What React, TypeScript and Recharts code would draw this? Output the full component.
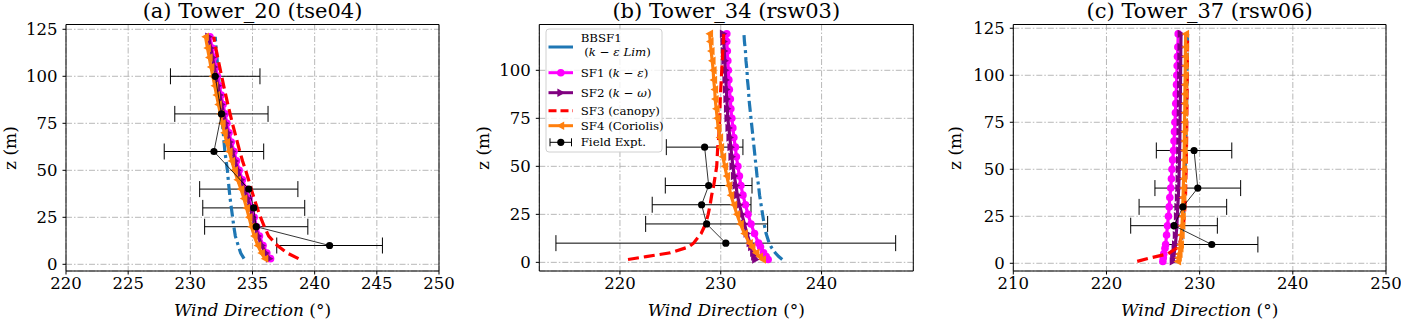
import React from 'react';
import { ScatterChart, Scatter, XAxis, YAxis, CartesianGrid, ErrorBar, ReferenceArea } from 'recharts';

const FONT = 'DejaVu Serif';

// (a) Tower_20 (tse04)
const zA = [3, 6, 10, 15, 20, 25, 30, 35, 40, 45, 50, 55, 60, 65, 70, 75, 80, 85, 90, 95, 100, 105, 110, 115, 121];
const bbsf1A = [234.32, 234.05, 233.85, 233.62, 233.5, 233.4, 233.3, 233.2, 233.12, 233.05, 232.98, 232.88, 232.78, 232.71, 232.65, 232.58, 232.52, 232.46, 232.4, 232.33, 232.26, 232.2, 232.14, 232.07, 232.0];
const sf1A = [236.45, 236.15, 235.85, 235.56, 235.33, 235.13, 234.93, 234.71, 234.46, 234.19, 233.93, 233.71, 233.51, 233.29, 233.11, 232.94, 232.79, 232.63, 232.48, 232.33, 232.18, 232.03, 231.89, 231.75, 231.58];
const sf2A = [236.35, 236.05, 235.75, 235.45, 235.22, 235.02, 234.82, 234.6, 234.35, 234.08, 233.82, 233.6, 233.4, 233.18, 233.0, 232.83, 232.68, 232.52, 232.37, 232.22, 232.07, 231.92, 231.78, 231.64, 231.47];
const sf3A = [238.7, 237.8, 237.0, 236.3, 235.95, 235.65, 235.38, 235.13, 234.9, 234.68, 234.45, 234.2, 233.98, 233.78, 233.58, 233.38, 233.2, 233.02, 232.85, 232.68, 232.52, 232.36, 232.2, 232.05, 231.88];
const sf4A = [236.0, 235.72, 235.43, 235.14, 234.92, 234.72, 234.52, 234.31, 234.07, 233.8, 233.55, 233.33, 233.13, 232.92, 232.74, 232.57, 232.42, 232.26, 232.11, 231.96, 231.81, 231.66, 231.52, 231.38, 231.22];
const fieldZA = [100, 80, 60, 40, 30, 20, 10];
const fieldA = [232.0, 232.5, 231.9, 234.7, 235.1, 235.3, 241.2];
const fieldErrA = [3.6, 3.75, 4.0, 3.95, 4.1, 4.15, 4.25];

// (b) Tower_34 (rsw03)
const zB = [1.5, 3, 5, 8, 10, 15, 20, 25, 30, 35, 40, 45, 50, 55, 60, 65, 70, 75, 80, 85, 90, 95, 100, 105, 110, 115, 119];
const bbsf1B = [236.1, 235.75, 235.4, 235.0, 234.8, 234.5, 234.3, 234.15, 234.0, 233.85, 233.75, 233.6, 233.5, 233.4, 233.3, 233.2, 233.1, 233.0, 232.9, 232.8, 232.75, 232.65, 232.6, 232.5, 232.45, 232.35, 232.3];
const sf1B = [234.7, 234.5, 234.25, 233.95, 233.75, 233.35, 233.0, 232.7, 232.45, 232.2, 232.0, 231.85, 231.7, 231.55, 231.45, 231.3, 231.2, 231.1, 231.0, 230.95, 230.85, 230.8, 230.75, 230.7, 230.65, 230.6, 230.6];
const sf2B = [233.45, 233.35, 233.25, 233.05, 232.9, 232.6, 232.35, 232.1, 231.85, 231.65, 231.5, 231.35, 231.2, 231.1, 231.0, 230.9, 230.8, 230.7, 230.65, 230.6, 230.55, 230.5, 230.45, 230.4, 230.35, 230.3, 230.25];
const sf3B = [220.8, 222.6, 225.0, 226.8, 227.3, 228.05, 228.5, 228.75, 228.95, 229.1, 229.3, 229.45, 229.6, 229.65, 229.7, 229.8, 229.85, 229.9, 229.92, 229.95, 230.0, 230.05, 230.1, 230.15, 230.2, 230.25, 230.3];
const sf4B = [234.15, 233.85, 233.5, 233.1, 232.85, 232.35, 231.95, 231.6, 231.3, 231.0, 230.8, 230.6, 230.4, 230.2, 230.0, 229.9, 229.75, 229.65, 229.55, 229.45, 229.4, 229.3, 229.25, 229.15, 229.05, 228.95, 228.9];
const fieldZB = [60, 40, 30, 20, 10];
const fieldB = [228.4, 228.8, 228.1, 228.6, 230.5];
const fieldErrB = [3.8, 4.3, 4.9, 6.05, 16.85];

// (c) Tower_37 (rsw06)
const zC = [1, 3, 5, 8, 10, 15, 20, 25, 30, 35, 40, 45, 50, 55, 60, 65, 70, 75, 80, 85, 90, 95, 100, 105, 110, 115, 122];
const bbsf1C = [227.8, 227.85, 227.9, 228.0, 228.05, 228.12, 228.2, 228.25, 228.3, 228.35, 228.38, 228.42, 228.45, 228.48, 228.5, 228.52, 228.54, 228.56, 228.58, 228.6, 228.62, 228.64, 228.65, 228.67, 228.68, 228.69, 228.7];
const sf1C = [226.05, 226.1, 226.15, 226.28, 226.35, 226.45, 226.55, 226.65, 226.73, 226.8, 226.9, 226.97, 227.03, 227.1, 227.2, 227.25, 227.3, 227.35, 227.4, 227.44, 227.48, 227.52, 227.55, 227.59, 227.62, 227.66, 227.7];
const sf2C = [227.15, 227.2, 227.25, 227.35, 227.4, 227.48, 227.55, 227.6, 227.65, 227.7, 227.75, 227.78, 227.8, 227.83, 227.85, 227.87, 227.88, 227.89, 227.9, 227.92, 227.93, 227.94, 227.95, 227.96, 227.97, 227.98, 228.0];
const sf3C = [223.3, 224.8, 226.6, 227.5, 227.8, 228.1, 228.25, 228.35, 228.42, 228.48, 228.5, 228.52, 228.55, 228.57, 228.58, 228.6, 228.61, 228.62, 228.63, 228.64, 228.65, 228.66, 228.67, 228.68, 228.69, 228.7, 228.7];
const sf4C = [227.65, 227.72, 227.8, 227.9, 227.95, 228.03, 228.1, 228.15, 228.18, 228.22, 228.25, 228.28, 228.3, 228.33, 228.35, 228.36, 228.37, 228.38, 228.4, 228.41, 228.42, 228.43, 228.45, 228.46, 228.47, 228.48, 228.5];
const fieldZC = [60, 40, 30, 20, 10];
const fieldC = [229.4, 229.8, 228.2, 227.25, 231.3];
const fieldErrC = [4.05, 4.6, 4.7, 4.65, 4.95];

const SERIES = [
  { key: 'bbsf1', color: '#1f77b4', dash: '11 4 3 4', marker: 'none' },
  { key: 'sf1', color: '#ff00ff', dash: undefined, marker: 'circle' },
  { key: 'sf2', color: '#800080', dash: undefined, marker: 'right' },
  { key: 'sf3', color: '#ff0000', dash: '11 5', marker: 'none' },
  { key: 'sf4', color: '#ff7f0e', dash: undefined, marker: 'left' },
];

const marker = (kind: string, color: string) => (props: any) => {
  const { cx, cy } = props;
  if (cx == null || cy == null) return <g />;
  if (kind === 'circle') return <circle cx={cx} cy={cy} r={3.8} fill={color} />;
  if (kind === 'right')
    return <polygon points={`${cx - 3.4},${cy - 4.2} ${cx + 4.2},${cy} ${cx - 3.4},${cy + 4.2}`} fill={color} />;
  if (kind === 'left')
    return <polygon points={`${cx + 3.4},${cy - 4.2} ${cx - 4.2},${cy} ${cx + 3.4},${cy + 4.2}`} fill={color} />;
  if (kind === 'dot') return <circle cx={cx} cy={cy} r={3.6} fill={color} />;
  return <g />;
};

const tickStyle = { fill: '#000', fontSize: 16.5, fontFamily: FONT };

type PanelProps = {
  title: string;
  left: number;
  width: number;
  mLeft: number;
  mRight: number;
  z: number[];
  vals: Record<string, number[]>;
  fz: number[];
  fv: number[];
  ferr: number[];
  xDomain: [number, number];
  xTicks: number[];
  yDomain: [number, number];
  yTicks: number[];
  ylabelX: number;
  legend?: boolean;
};

function Legend() {
  const gx1 = 78.5;
  const gx2 = 103;
  const gc = 90.8;
  const tx = 110.7;
  const fs = 11.8;
  return (
    <g fontFamily={FONT} fontSize={fs} fill="#000">
      <rect x={76} y={29} width={116} height={123} rx={3} fill="#fff" fillOpacity={0.8} stroke="#d0d0d0" />
      <line x1={gx1} x2={gx2} y1={47} y2={47} stroke="#1f77b4" strokeWidth={3} />
      <text x={tx} y={41.5}>BBSF1</text>
      <text x={tx + 3.5} y={56}>(<tspan fontStyle="italic">k</tspan> − <tspan fontStyle="italic">ε Lim</tspan>)</text>

      <line x1={gx1} x2={gx2} y1={72.7} y2={72.7} stroke="#ff00ff" strokeWidth={3} />
      <circle cx={gc} cy={72.7} r={3.8} fill="#ff00ff" />
      <text x={tx} y={76.5}>SF1 (<tspan fontStyle="italic">k</tspan> − <tspan fontStyle="italic">ε</tspan>)</text>

      <line x1={gx1} x2={gx2} y1={92.7} y2={92.7} stroke="#800080" strokeWidth={3} />
      <polygon points={`${gc - 3.4},${92.7 - 4.2} ${gc + 4.2},92.7 ${gc - 3.4},${92.7 + 4.2}`} fill="#800080" />
      <text x={tx} y={96.5}>SF2 (<tspan fontStyle="italic">k</tspan> − <tspan fontStyle="italic">ω</tspan>)</text>

      <line x1={gx1} x2={gx2} y1={110.7} y2={110.7} stroke="#ff0000" strokeWidth={3} strokeDasharray="8 4" />
      <text x={tx} y={114.5}>SF3 (canopy)</text>

      <line x1={gx1} x2={gx2} y1={125.7} y2={125.7} stroke="#ff7f0e" strokeWidth={3} />
      <polygon points={`${gc + 3.4},${125.7 - 4.2} ${gc - 4.2},125.7 ${gc + 3.4},${125.7 + 4.2}`} fill="#ff7f0e" />
      <text x={tx} y={129.5}>SF4 (Coriolis)</text>

      <line x1={80} x2={101.5} y1={142.3} y2={142.3} stroke="#000" strokeWidth={1} />
      <line x1={80} x2={80} y1={138.3} y2={146.3} stroke="#000" strokeWidth={1} />
      <line x1={101.5} x2={101.5} y1={138.3} y2={146.3} stroke="#000" strokeWidth={1} />
      <circle cx={gc} cy={142.3} r={3.6} fill="#000" />
      <text x={tx} y={146}>Field Expt.</text>
    </g>
  );
}

function Panel(p: PanelProps) {
  const top = 24.5;
  const bottom = 19;
  const xH = 30;
  const yW = 60;
  const plotL = p.mLeft + yW;
  const plotR = p.width - p.mRight;
  const cx = (plotL + plotR) / 2;
  const field = p.fz.map((z, i) => ({ z, x: p.fv[i], err: p.ferr[i] }));
  return (
    <div style={{ position: 'absolute', left: p.left, top: 0, width: p.width, height: 320 }}>
      <ScatterChart width={p.width} height={320} margin={{ top, right: p.mRight, bottom, left: p.mLeft }}>
        <CartesianGrid stroke="#b0b0b0" strokeWidth={0.9} strokeDasharray="6 2 1.5 2" />
        <XAxis
          type="number"
          dataKey="x"
          domain={p.xDomain}
          ticks={p.xTicks}
          allowDataOverflow
          interval={0}
          height={xH}
          axisLine={false}
          tickLine={{ stroke: '#000' }}
          tickSize={3.5}
          tickMargin={2.5}
          tick={tickStyle}
        />
        <YAxis
          type="number"
          dataKey="z"
          domain={p.yDomain}
          ticks={p.yTicks}
          allowDataOverflow
          interval={0}
          width={yW}
          axisLine={false}
          tickLine={{ stroke: '#000' }}
          tickSize={3.5}
          tickMargin={5}
          tick={tickStyle}
        />
        <ReferenceArea
          x1={p.xDomain[0]}
          x2={p.xDomain[1]}
          y1={p.yDomain[0]}
          y2={p.yDomain[1]}
          fill="none"
          fillOpacity={0}
          stroke="#000"
          strokeWidth={1}
        />
        {SERIES.map((s) => (
          <Scatter
            key={s.key}
            data={p.z.map((z, i) => ({ z, x: p.vals[s.key][i] }))}
            fill={s.color}
            line={{ stroke: s.color, strokeWidth: 3.2, strokeDasharray: s.dash }}
            lineType="joint"
            shape={marker(s.marker, s.color)}
            isAnimationActive={false}
          />
        ))}
        <Scatter
          data={field}
          fill="#000"
          line={{ stroke: '#000', strokeWidth: 0.8 }}
          lineType="joint"
          shape={marker('dot', '#000')}
          isAnimationActive={false}
        >
          <ErrorBar dataKey="err" direction="x" width={8} stroke="#000" strokeWidth={1} />
        </Scatter>
      </ScatterChart>
      <svg
        width={p.width}
        height={320}
        style={{ position: 'absolute', left: 0, top: 0, pointerEvents: 'none' }}
      >
        <text x={cx} y={17.7} textAnchor="middle" fontFamily={FONT} fontSize={21} fill="#000">
          {p.title}
        </text>
        <text x={cx} y={316} textAnchor="middle" fontFamily={FONT} fontSize={17} fill="#000">
          <tspan fontStyle="italic">Wind Direction</tspan> (°)
        </text>
        <text
          x={p.ylabelX}
          y={148}
          textAnchor="middle"
          fontFamily={FONT}
          fontSize={17}
          fill="#000"
          transform={`rotate(-90 ${p.ylabelX} 148)`}
        >
          z (m)
        </text>
        {p.legend && <Legend />}
      </svg>
    </div>
  );
}

export default function App() {
  return (
    <div style={{ position: 'absolute', left: 0, top: 0, width: 1401, height: 320, background: '#fff' }}>
      <Panel
        title="(a) Tower_20 (tse04)"
        left={0}
        width={470}
        mLeft={6}
        mRight={31}
        z={zA}
        vals={{ bbsf1: bbsf1A, sf1: sf1A, sf2: sf2A, sf3: sf3A, sf4: sf4A }}
        fz={fieldZA}
        fv={fieldA}
        ferr={fieldErrA}
        xDomain={[220, 250]}
        xTicks={[220, 225, 230, 235, 240, 245, 250]}
        yDomain={[-3.56, 127.55]}
        yTicks={[0, 25, 50, 75, 100, 125]}
        ylabelX={16}
      />
      <Panel
        title="(b) Tower_34 (rsw03)"
        left={470}
        width={470}
        mLeft={9.3}
        mRight={26.7}
        z={zB}
        vals={{ bbsf1: bbsf1B, sf1: sf1B, sf2: sf2B, sf3: sf3B, sf4: sf4B }}
        fz={fieldZB}
        fv={fieldB}
        ferr={fieldErrB}
        xDomain={[212.0, 249.1]}
        xTicks={[220, 230, 240]}
        yDomain={[-4.5, 123.85]}
        yTicks={[0, 25, 50, 75, 100]}
        ylabelX={19}
        legend
      />
      <Panel
        title="(c) Tower_37 (rsw06)"
        left={940}
        width={461}
        mLeft={13.3}
        mRight={15}
        z={zC}
        vals={{ bbsf1: bbsf1C, sf1: sf1C, sf2: sf2C, sf3: sf3C, sf4: sf4C }}
        fz={fieldZC}
        fv={fieldC}
        ferr={fieldErrC}
        xDomain={[210, 250]}
        xTicks={[210, 220, 230, 240, 250]}
        yDomain={[-4.1, 127.0]}
        yTicks={[0, 25, 50, 75, 100, 125]}
        ylabelX={20.5}
      />
    </div>
  );
}
